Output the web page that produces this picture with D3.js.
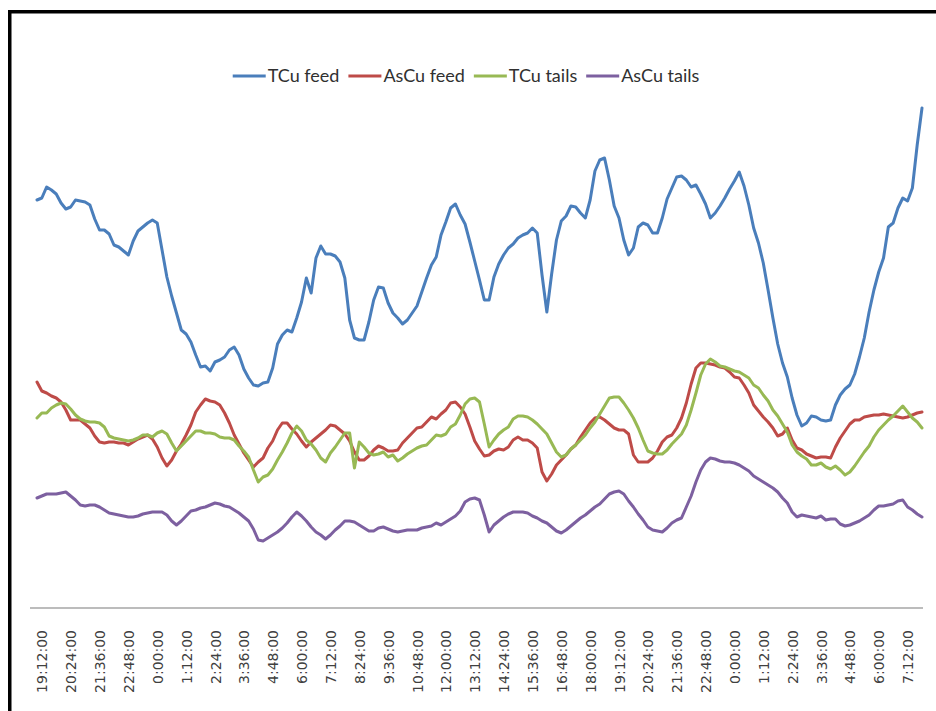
<!DOCTYPE html>
<html>
<head>
<meta charset="utf-8">
<script src="https://cdn.jsdelivr.net/npm/d3@7"></script>
<style>
  html, body { margin: 0; padding: 0; background: #fff; }
  svg { display: block; }
</style>
</head>
<body>
<svg id="chart" width="936" height="711"></svg>
<script>
// Assay trend, 12-minute samples starting 19:00 (values in % of scale)
const sampleStepMin = 12;

const tickLabels = ["19:12:00","20:24:00","21:36:00","22:48:00","0:00:00","1:12:00","2:24:00",
  "3:36:00","4:48:00","6:00:00","7:12:00","8:24:00","9:36:00","10:48:00","12:00:00","13:12:00",
  "14:24:00","15:36:00","16:48:00","18:00:00","19:12:00","20:24:00","21:36:00","22:48:00",
  "0:00:00","1:12:00","2:24:00","3:36:00","4:48:00","6:00:00","7:12:00"];
const tickFirstMin = 12;   // first label one sample after the start
const tickStepMin = 72;

const seriesNames = ["TCu feed", "AsCu feed", "TCu tails", "AsCu tails"];
const seriesColors = ["#4A7EBB", "#BE4B48", "#98B954", "#7D60A0"];

const tcuFeed = [
  81.4,81.8,84.0,83.4,82.6,80.8,79.6,80.0,81.4,81.2,81.0,80.4,77.6,75.4,75.4,74.6,72.4,72.0,71.2,70.4,
  73.2,75.2,76.0,76.8,77.4,76.8,71.4,66.0,62.2,58.8,55.4,54.6,53.0,50.4,48.0,48.2,47.2,49.0,49.4,50.0,
  51.4,52.0,50.4,47.6,45.8,44.4,44.2,44.8,45.0,47.8,52.6,54.4,55.4,55.0,57.8,61.0,65.8,62.8,69.8,72.2,
  70.6,70.6,70.2,69.0,65.8,57.4,53.8,53.4,53.4,57.0,61.4,64.0,63.8,60.8,58.8,57.8,56.6,57.4,58.8,60.2,
  63.0,65.8,68.4,70.0,74.4,77.0,79.8,80.6,78.4,76.6,73.0,69.2,65.4,61.4,61.4,66.0,68.6,70.4,71.8,72.6,
  73.8,74.4,74.8,75.8,74.8,66.4,59.0,66.6,73.4,77.2,78.2,80.2,80.0,78.8,77.8,81.4,87.2,89.4,89.8,85.4,
  80.2,77.8,73.4,70.4,71.8,76.0,76.8,76.4,74.8,74.8,77.8,81.6,83.8,86.0,86.2,85.4,84.0,84.4,82.6,80.6,
  77.8,78.8,80.2,81.8,83.6,85.2,87.0,84.2,80.4,75.8,72.8,68.8,63.4,57.8,52.6,48.8,46.0,41.8,38.4,36.2,
  36.8,38.2,38.0,37.4,37.2,37.4,40.4,42.4,43.6,44.4,46.6,50.0,53.8,59.0,63.4,67.0,69.8,76.0,76.8,79.8,
  81.8,81.2,83.8,92.4,99.8];

const ascuFeed = [
  45.0,43.2,42.8,42.2,41.8,41.0,39.4,37.4,37.4,37.4,36.6,35.8,34.2,33.0,32.8,33.0,33.0,32.8,32.8,32.4,
  33.0,33.6,34.0,34.4,33.6,32.0,29.8,28.2,29.4,31.2,32.6,34.4,36.4,39.0,40.4,41.6,41.2,41.0,40.4,38.8,
  36.8,34.4,32.6,30.8,29.4,28.0,29.0,29.8,31.8,33.2,35.4,36.8,36.8,35.6,34.6,33.2,32.0,33.0,33.8,34.6,
  35.4,36.4,36.2,35.4,34.6,33.2,31.0,29.4,29.4,30.2,31.4,32.2,31.8,31.2,31.2,31.4,32.8,33.8,34.8,35.8,
  36.0,37.0,38.0,37.6,38.6,39.4,40.8,41.0,40.0,38.6,36.0,33.2,31.6,30.2,30.4,31.2,31.6,31.4,32.0,33.4,
  34.0,33.4,33.4,32.8,31.8,27.0,25.2,26.6,28.4,29.4,30.4,31.6,32.4,34.0,35.4,36.8,37.8,38.0,37.4,36.6,
  35.8,35.4,35.4,34.6,30.4,29.0,29.0,29.0,29.8,31.2,33.0,34.0,34.4,35.8,37.8,40.8,44.6,47.8,48.8,48.8,
  48.6,48.4,48.0,47.8,47.0,46.0,45.8,44.4,42.8,40.4,39.2,38.0,37.0,35.8,34.2,34.6,35.8,33.4,31.8,31.4,
  30.6,30.2,29.8,30.0,30.0,29.8,32.0,33.8,35.2,36.6,37.4,37.4,38.0,38.2,38.4,38.4,38.6,38.4,38.2,38.0,
  37.8,38.0,38.4,38.8,39.0];

const tcuTails = [
  37.8,38.8,38.8,39.8,40.4,40.8,40.6,39.6,38.4,37.6,37.2,37.0,37.0,36.8,36.0,34.2,33.8,33.6,33.4,33.2,
  33.4,33.8,34.4,34.4,34.0,34.8,35.2,34.6,32.8,31.2,32.2,33.2,34.2,35.2,35.2,34.8,34.8,34.6,34.0,33.8,
  33.8,33.4,32.2,31.2,30.0,27.4,25.0,26.0,26.4,27.6,29.4,31.0,32.8,34.8,36.2,35.2,33.4,32.6,31.4,29.8,
  29.0,30.8,32.0,33.4,34.8,34.8,27.8,33.0,32.0,30.8,30.4,30.6,31.0,30.0,30.4,29.2,29.8,30.6,31.2,31.8,
  32.2,32.4,33.4,34.4,34.2,34.6,36.0,36.6,38.4,40.6,41.6,41.8,41.0,36.6,32.0,33.4,34.6,35.4,36.0,37.6,
  38.2,38.2,38.0,37.4,36.6,35.6,34.6,32.8,31.0,30.0,30.4,31.6,32.4,33.4,34.4,35.8,37.0,38.6,40.2,41.8,
  42.0,42.0,40.8,39.4,37.8,35.8,33.4,31.2,30.8,30.6,30.6,31.4,32.6,33.6,34.6,36.4,39.4,42.8,46.4,48.6,
  49.6,49.0,48.2,48.0,47.6,47.2,47.0,46.4,45.8,44.4,43.8,42.4,41.2,39.4,38.2,36.6,35.0,32.4,31.0,30.2,
  29.6,28.4,28.4,28.8,28.0,27.6,28.2,27.4,26.4,27.0,28.2,29.6,31.0,32.2,34.0,35.4,36.4,37.4,38.2,39.2,
  40.2,39.0,37.8,37.0,35.8];

const ascuTails = [
  21.8,22.2,22.6,22.6,22.6,22.8,23.0,22.2,21.4,20.4,20.2,20.4,20.4,20.0,19.4,18.8,18.6,18.4,18.2,18.0,
  18.0,18.2,18.6,18.8,19.0,19.0,19.0,18.4,17.2,16.4,17.2,18.2,19.2,19.4,19.8,20.0,20.4,20.8,20.6,20.2,
  20.0,19.4,18.8,18.0,17.2,15.6,13.4,13.2,13.8,14.4,15.0,15.8,16.8,18.0,19.0,18.2,17.2,16.0,15.0,14.4,
  13.6,14.4,15.4,16.2,17.2,17.2,17.0,16.4,15.8,15.2,15.2,15.8,16.0,15.6,15.2,15.0,15.2,15.4,15.4,15.4,
  15.8,16.0,16.2,16.8,16.4,17.0,17.6,18.2,19.2,21.0,21.6,21.8,21.4,18.4,15.0,16.4,17.2,18.0,18.6,19.0,
  19.0,19.0,18.8,18.2,17.8,17.2,16.8,16.0,15.2,14.8,15.4,16.2,17.0,17.8,18.4,19.2,20.0,20.6,21.6,22.6,
  23.0,23.2,22.6,21.2,20.0,18.6,17.4,16.0,15.4,15.2,15.0,15.8,16.8,17.4,17.8,20.0,22.2,25.0,27.4,29.0,
  29.8,29.6,29.2,29.0,29.0,28.8,28.4,27.8,27.2,26.2,25.6,25.0,24.4,23.8,23.0,21.8,20.8,19.0,18.0,18.4,
  18.2,18.0,17.8,18.2,17.4,17.6,17.6,16.6,16.2,16.4,16.8,17.2,17.8,18.4,19.4,20.2,20.2,20.4,20.6,21.2,
  21.4,20.0,19.4,18.6,18.0];

const seriesValues = [tcuFeed, ascuFeed, tcuTails, ascuTails];

const svg = d3.select("#chart");

// outer chart frame (runs past the right and bottom edges of the view)
svg.append("rect")
  .attr("x", 9.75).attr("y", 11.75)
  .attr("width", 1000).attr("height", 1000)
  .attr("fill", "none").attr("stroke", "#000").attr("stroke-width", 3.5);

const lastMin = (tcuFeed.length - 1) * sampleStepMin;
const x = d3.scaleLinear().domain([0, lastMin]).range([37, 922]);
const y = d3.scaleLinear().domain([0, 100]).range([607, 107]);

// category axis
const tickMinutes = tickLabels.map((_, j) => tickFirstMin + j * tickStepMin);
const axis = d3.axisBottom(x)
  .tickValues(tickMinutes)
  .tickFormat((d, i) => tickLabels[i])
  .tickSize(0);

const gx = svg.append("g").attr("transform", "translate(0,608)").call(axis);
gx.select(".domain").remove();
gx.append("line")
  .attr("x1", x.range()[0] - 7).attr("x2", x.range()[1] + 1)
  .attr("y1", 0).attr("y2", 0)
  .attr("stroke", "#a6a6a6").attr("stroke-width", 1.5);
gx.selectAll(".tick text")
  .attr("transform", "rotate(-90)")
  .attr("x", -22).attr("y", 0).attr("dy", "0.36em")
  .style("text-anchor", "end")
  .style("font-family", "'DejaVu Sans', Verdana, sans-serif")
  .style("font-size", "14px")
  .attr("fill", "#404040");

// series lines
const line = d3.line()
  .x((d, i) => x(i * sampleStepMin))
  .y(d => y(d));

svg.append("g").selectAll("path")
  .data(seriesValues)
  .join("path")
  .attr("d", line)
  .attr("fill", "none")
  .attr("stroke", (d, i) => seriesColors[i])
  .attr("stroke-width", 3)
  .attr("stroke-linejoin", "round")
  .attr("stroke-linecap", "round");

// legend, centred above the plot
const legend = svg.append("g").attr("class", "legend");
const items = legend.selectAll("g").data(seriesNames).join("g");
items.append("line")
  .attr("x1", 0).attr("x2", 33).attr("y1", 0).attr("y2", 0)
  .attr("stroke", (d, i) => seriesColors[i]).attr("stroke-width", 3);
items.append("text")
  .attr("x", 35).attr("y", 0).attr("dy", "0.36em")
  .style("font-family", "Lato, 'Open Sans', sans-serif")
  .style("font-size", "18px")
  .attr("fill", "#303030")
  .text(d => d);

let cursor = 0;
items.each(function () {
  const g = d3.select(this);
  g.attr("transform", `translate(${cursor},0)`);
  cursor += 35 + g.select("text").node().getComputedTextLength() + 9;
});
const legendWidth = cursor - 9;
legend.attr("transform", `translate(${466 - legendWidth / 2},76)`);
</script>
</body>
</html>
